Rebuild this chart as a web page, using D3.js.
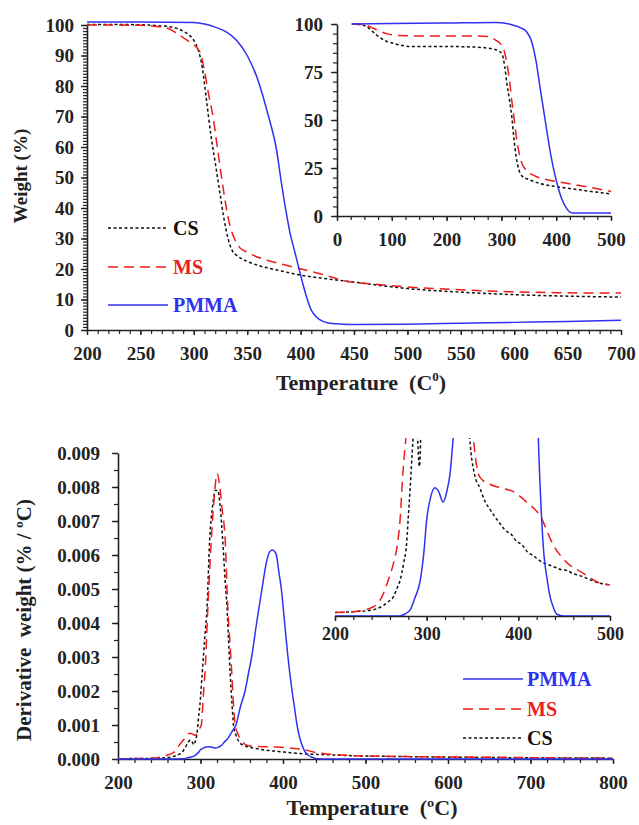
<!DOCTYPE html>
<meta charset="utf-8">
<script src="https://d3js.org/d3.v7.min.js"></script>
<style>
  body { margin: 0; background: #fff; }
  svg text { font-family: "Liberation Serif", "Times New Roman", "DejaVu Serif", serif; font-weight: bold; }
</style>
<div id="chart"></div>
<script>
// ---- TGA, main panel (normalised weight %, 200-700 C)
const csTgaT   = [200, 250, 265, 280, 290, 296, 300, 304, 308, 312, 316, 320, 324, 328, 332, 336, 340, 350, 360, 380, 400, 420, 450, 500, 550, 600, 650, 700];
const csTgaW   = [100.2, 100.1, 99.8, 99.3, 98, 96.6, 95, 92, 86, 75, 64, 55, 46, 37, 30, 26, 24.5, 22.5, 21.2, 19.5, 18, 17, 15.7, 13.6, 12.4, 11.6, 11.1, 10.8];
const msTgaT   = [200, 250, 265, 275, 285, 295, 300, 306, 310, 314, 318, 322, 326, 330, 334, 338, 343, 350, 362, 380, 397, 420, 443, 470, 500, 550, 600, 650, 700];
const msTgaW   = [100, 99.9, 99.5, 99, 97, 94.7, 93.5, 91, 85, 77, 70, 60, 50, 41, 34, 30, 27, 25.5, 23.6, 21.8, 20.3, 18.3, 16, 15, 14.1, 13.2, 12.5, 12.2, 12.1];
const pmmaTgaT = [200, 250, 300, 310, 320, 330, 340, 350, 360, 370, 377, 383, 390, 395, 400, 405, 410, 415, 420, 425, 430, 440, 450, 500, 550, 600, 650, 700];
const pmmaTgaW = [101, 101, 100.8, 100.3, 99.3, 97.8, 95, 90, 82, 70, 60, 46, 32, 25, 18, 11.5, 6.5, 4.2, 3, 2.4, 2.1, 1.9, 1.8, 1.9, 2.2, 2.5, 2.8, 3.2];

// ---- TGA, inset (raw weight %, 0-500 C)
const csInT   = [27, 40, 55, 65, 78, 90, 102, 120, 133, 200, 250, 285, 295, 301, 306, 310, 315, 319, 323, 327, 332, 337, 350, 370, 400, 419, 450, 500];
const csInW   = [100, 99.8, 98.4, 96, 93, 91, 90, 88.8, 88.3, 88.3, 88, 87, 86, 84.5, 78, 69, 60, 51.6, 40, 30.7, 24, 21, 19, 17, 15.3, 14.5, 13.3, 11.5];
const msInT   = [27, 50, 72, 90, 115, 150, 250, 274, 290, 300, 306, 310, 315, 319, 324, 328, 333, 338, 345, 360, 382, 400, 450, 500];
const msInW   = [100, 99.5, 97, 95, 94, 93.8, 93.8, 93.5, 91.5, 89, 85, 79.7, 70, 60, 49, 39.6, 32, 27, 24, 21, 19, 18, 15.5, 12.8];
const pmmaInT = [27, 100, 200, 290, 300, 320, 335, 346, 355, 363, 370, 376, 382, 390, 400, 410, 419, 425, 431, 450, 500];
const pmmaInW = [100, 100.2, 100.5, 100.8, 100.7, 99.5, 98, 96, 91, 81, 68, 57, 46, 32, 18.6, 9, 4, 2, 1.5, 1.5, 1.5];

// ---- DTG (derivative weight, %/C), used by main panel and inset
const csDtgT = [200, 220, 235, 245, 253, 258, 264, 268, 271, 275, 278, 280, 282, 285, 288, 290, 292, 294, 296, 297, 300, 302, 305, 308, 311, 315, 318, 321, 324, 327, 330, 332, 334, 336, 338, 340, 343, 347, 352, 358, 364, 369, 374, 380, 386, 392, 398, 404, 410, 416, 421, 427, 432, 437, 442, 447, 453, 459, 465, 471, 477, 483, 489, 494, 500, 550, 600, 650, 700, 750, 800];
const csDtgV = [0.00001, 0.000012, 0.000015, 0.00002, 0.00003, 0.00004, 0.000055, 0.00008, 0.0001, 0.00015, 0.0002, 0.00028, 0.00036, 0.00049, 0.00056, 0.0005, 0.00042, 0.00055, 0.0008, 0.00106, 0.0018, 0.0025, 0.0035, 0.0045, 0.0064, 0.0075, 0.0079, 0.0079, 0.0074, 0.0064, 0.0052, 0.0045, 0.0035, 0.0025, 0.0017, 0.001, 0.0007, 0.0005, 0.0004, 0.00036, 0.00032, 0.0003, 0.00028, 0.00026, 0.00024, 0.00023, 0.00021, 0.0002, 0.00018, 0.00017, 0.00016, 0.00015, 0.000145, 0.00014, 0.000135, 0.00013, 0.000128, 0.00012, 0.000115, 0.00011, 0.000103, 0.000097, 0.000092, 0.00009, 0.000087, 0.00007, 0.000055, 0.000045, 0.000035, 0.00003, 0.000025];
const msDtgT = [200, 220, 242, 248, 253, 258, 264, 268, 271, 274, 277, 280, 284, 287, 290, 293, 296, 299, 301, 303, 306, 309, 313, 317, 320, 323, 326, 330, 333, 336, 338, 340, 342, 346, 351, 358, 369, 380, 394, 409, 424, 438, 453, 471, 489, 500, 550, 600, 650, 700, 750, 800];
const msDtgV = [0.00001, 0.000012, 0.000026, 0.00004, 0.000064, 0.0001, 0.00015, 0.0002, 0.00027, 0.0004, 0.00049, 0.00058, 0.0007, 0.00076, 0.00074, 0.0007, 0.00075, 0.0009, 0.001, 0.0017, 0.0028, 0.0045, 0.0064, 0.0078, 0.0084, 0.0081, 0.0074, 0.0064, 0.0045, 0.0033, 0.0025, 0.0016, 0.001, 0.0007, 0.0005, 0.00039, 0.00037, 0.00036, 0.00035, 0.00032, 0.00028, 0.0002, 0.00015, 0.00012, 0.000092, 0.000087, 0.00007, 0.00006, 0.00005, 0.00004, 0.00003, 0.000025];
const pmmaDtgT = [200, 270, 276, 282, 287, 293, 297, 300, 304, 309, 313, 318, 322, 325.5, 329, 333, 338, 343, 348, 354, 358, 362, 368, 374.5, 380, 384, 387, 390, 392, 395, 398, 402, 406, 411, 414, 417, 419.5, 421.8, 425.5, 428, 431, 435, 438, 442, 450, 800];
const pmmaDtgV = [0, 0, 0.000005, 0.000017, 0.00005, 0.0001, 0.00018, 0.00027, 0.00033, 0.00036, 0.00035, 0.00032, 0.00035, 0.0004, 0.0005, 0.0006, 0.0008, 0.001, 0.0015, 0.002, 0.0025, 0.003, 0.004, 0.005, 0.0058, 0.0061, 0.00615, 0.0061, 0.006, 0.0055, 0.005, 0.004, 0.003, 0.002, 0.0015, 0.001, 0.0007, 0.0005, 0.00027, 0.00017, 0.00011, 0.00005, 0.000026, 0.000005, 0, 0];

// ---- ticks / labels
const tgaYMajor = d3.range(0, 101, 10);
const tgaXMajor = d3.range(200, 701, 50);
const inYMajor = [0, 25, 50, 75, 100];
const inXMajor = [0, 100, 200, 300, 400, 500];
const dtgYMajor = d3.range(0, 0.00901, 0.001);
const dtgXMajor = [200, 300, 400, 500, 600, 700, 800];
const dtgInXMajor = [200, 300, 400, 500];

const series = [
  {name: "CS",   color: "#111", dash: "3,2.5"},
  {name: "MS",   color: "#ee1c1c", dash: "10,6"},
  {name: "PMMA", color: "#3030f0", dash: null}
];

const SERIF = "Liberation Serif, Times New Roman, DejaVu Serif, serif";

const svg = d3.select("#chart").append("svg")
  .attr("width", 639).attr("height", 825)
  .attr("font-family", SERIF)
  .style("background", "#fff");

// draw an axis with separate minor ticks (no labels) and major labelled ticks
function drawAxis(orient, scale, at, major, minor, fmt, pad, fs, majorSize) {
  const mk = orient === "left" ? d3.axisLeft : d3.axisBottom;
  const tr = orient === "left" ? `translate(${at},0)` : `translate(0,${at})`;
  if (minor) {
    svg.append("g").attr("transform", tr)
      .call(mk(scale).tickValues(minor).tickSize(4).tickSizeOuter(0).tickFormat(""))
      .call(g => g.select(".domain").remove())
      .call(g => g.selectAll("line").attr("stroke", "#222").attr("stroke-width", 1.2));
  }
  const g = svg.append("g").attr("transform", tr)
    .call(mk(scale).tickValues(major).tickSize(majorSize || 6).tickSizeOuter(0).tickPadding(pad).tickFormat(fmt));
  g.attr("font-family", SERIF);
  g.select(".domain").attr("stroke", "#222").attr("stroke-width", 1.6);
  g.selectAll("line").attr("stroke", "#222").attr("stroke-width", 1.4);
  g.selectAll("text").attr("font-size", fs).attr("fill", "#222")
    .attr("font-family", SERIF).attr("font-weight", "bold");
  return g;
}

function drawLine(parent, xs, ys, x, y, s, clip) {
  const pts = xs.map((t, i) => [t, ys[i]]);
  const p = parent.append("path")
    .datum(pts)
    .attr("fill", "none")
    .attr("stroke", s.color)
    .attr("stroke-width", 1.5)
    .attr("d", d3.line().x(d => x(d[0])).y(d => y(d[1])).curve(d3.curveMonotoneX));
  if (s.dash) p.attr("stroke-dasharray", s.dash);
  if (clip) p.attr("clip-path", clip);
}

function legendRow(x0, yRow, s, textX) {
  svg.append("line").attr("x1", x0).attr("x2", x0 + 60).attr("y1", yRow).attr("y2", yRow)
    .attr("stroke", s.color).attr("stroke-width", 1.5)
    .attr("stroke-dasharray", s.dash);
  svg.append("text").attr("x", textX).attr("y", yRow).attr("dy", "0.35em")
    .attr("font-size", 20).attr("font-weight", "bold").attr("fill", s.color).text(s.name);
}

// ================= TOP: TGA =================
const xT = d3.scaleLinear().domain([200, 700]).range([87, 621]);
const yT = d3.scaleLinear().domain([0, 100]).range([330, 25]);

drawAxis("left", yT, 87, tgaYMajor, d3.range(0, 101, 1), d3.format("d"), 7, 19, 6);
drawAxis("bottom", xT, 330, tgaXMajor, d3.range(200, 701, 10), d3.format("d"), 12, 19, 5);

drawLine(svg, csTgaT, csTgaW, xT, yT, series[0]);
drawLine(svg, msTgaT, msTgaW, xT, yT, series[1]);
drawLine(svg, pmmaTgaT, pmmaTgaW, xT, yT, series[2]);

svg.append("text")
  .attr("transform", "translate(27,176) rotate(-90)")
  .attr("text-anchor", "middle").attr("font-size", 19).attr("font-weight", "bold").attr("fill", "#222")
  .text("Weight (%)");

const tx1 = svg.append("text").attr("x", 361).attr("y", 390)
  .attr("text-anchor", "middle").attr("font-size", 22).attr("font-weight", "bold").attr("fill", "#222");
tx1.append("tspan").text("Temperature\u00a0\u00a0(C");
tx1.append("tspan").attr("font-size", 13).attr("dy", -9).text("0");
tx1.append("tspan").attr("dy", 9).text(")");

legendRow(108, 228, series[0], 173);
legendRow(108, 267, series[1], 173);
legendRow(108, 305, series[2], 173);

// inset
const xI = d3.scaleLinear().domain([0, 500]).range([337, 611]);
const yI = d3.scaleLinear().domain([0, 100]).range([216, 24]);
drawAxis("left", yI, 337, inYMajor, d3.range(0, 101, 5), d3.format("d"), 8, 19, 6);
drawAxis("bottom", xI, 216, inXMajor, d3.range(0, 501, 25), d3.format("d"), 12, 19, 5);
drawLine(svg, csInT, csInW, xI, yI, series[0]);
drawLine(svg, msInT, msInW, xI, yI, series[1]);
drawLine(svg, pmmaInT, pmmaInW, xI, yI, series[2]);

// ================= BOTTOM: DTG =================
const xD = d3.scaleLinear().domain([200, 800]).range([118, 613]);
const yD = d3.scaleLinear().domain([0, 0.009]).range([759, 453]);

drawAxis("left", yD, 118, dtgYMajor, d3.range(0, 0.00901, 0.0005), d3.format(".3f"), 12, 19, 6);
drawAxis("bottom", xD, 759, dtgXMajor, d3.range(200, 801, 20), d3.format("d"), 12, 19, 5);

drawLine(svg, csDtgT, csDtgV, xD, yD, series[0]);
drawLine(svg, msDtgT, msDtgV, xD, yD, series[1]);
drawLine(svg, pmmaDtgT, pmmaDtgV, xD, yD, series[2]);

svg.append("text")
  .attr("transform", "translate(31,620) rotate(-90)")
  .attr("text-anchor", "middle").attr("font-size", 21).attr("font-weight", "bold").attr("fill", "#222")
  .text("Derivative\u00a0\u00a0weight (% / \u00baC)");

svg.append("text").attr("x", 372).attr("y", 815)
  .attr("text-anchor", "middle").attr("font-size", 22).attr("font-weight", "bold").attr("fill", "#222")
  .text("Temperature\u00a0\u00a0(\u00baC)");

legendRow(463, 679, series[2], 527);
legendRow(463, 709, series[1], 527);
legendRow(463, 738, series[0], 527);

// inset (zoomed baseline region, top clipped)
const xDI = d3.scaleLinear().domain([200, 500]).range([335, 610]);
const yDI = d3.scaleLinear().domain([0, 0.0005]).range([616, 438]);
svg.append("clipPath").attr("id", "dtgClip")
  .append("rect").attr("x", 335).attr("y", 438).attr("width", 275).attr("height", 178);
drawAxis("bottom", xDI, 616, dtgInXMajor, d3.range(200, 501, 20), d3.format("d"), 6, 18, 5);
drawLine(svg, csDtgT, csDtgV, xDI, yDI, series[0], "url(#dtgClip)");
drawLine(svg, msDtgT, msDtgV, xDI, yDI, series[1], "url(#dtgClip)");
drawLine(svg, pmmaDtgT, pmmaDtgV, xDI, yDI, series[2], "url(#dtgClip)");
</script>
